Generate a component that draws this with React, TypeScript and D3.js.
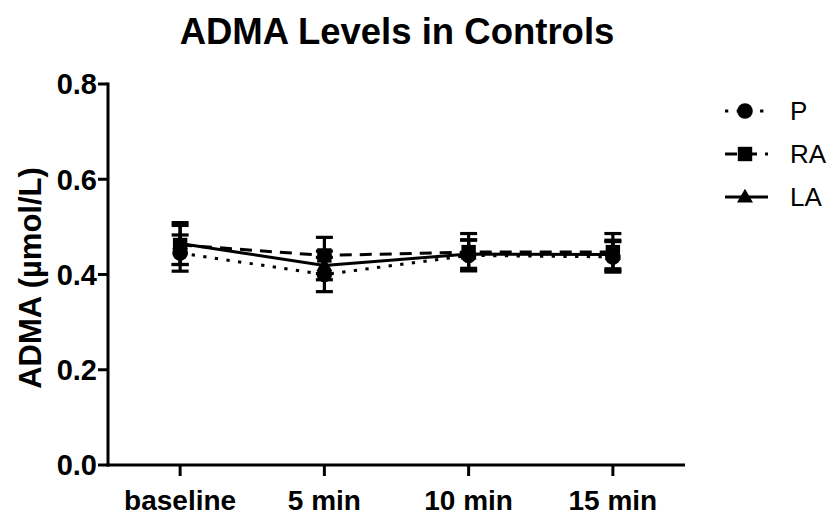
import React from "react";
import * as d3 from "d3";

// Time points and group means ± SEM (µmol/L)
const categories = ["baseline", "5 min", "10 min", "15 min"];
const pMean = [0.445, 0.4, 0.44, 0.437];
const pErr = [0.038, 0.036, 0.032, 0.032];
const raMean = [0.462, 0.44, 0.447, 0.447];
const raErr = [0.041, 0.038, 0.039, 0.039];
const laMean = [0.465, 0.419, 0.443, 0.442];
const laErr = [0.044, 0.03, 0.03, 0.03];
const yTicks = [0.0, 0.2, 0.4, 0.6, 0.8];

const W = 836;
const H = 518;
const FONT = "'Liberation Sans', Arial, Helvetica, sans-serif";

type Series = {
  name: string;
  mean: number[];
  err: number[];
  dash: string | undefined;
  marker: "circle" | "square" | "triangle";
};

const series: Series[] = [
  { name: "P", mean: pMean, err: pErr, dash: "3.3 8.4", marker: "circle" },
  { name: "RA", mean: raMean, err: raErr, dash: "12 8", marker: "square" },
  { name: "LA", mean: laMean, err: laErr, dash: undefined, marker: "triangle" },
];

function Marker({ kind, x, y }: { kind: Series["marker"]; x: number; y: number }) {
  if (kind === "circle") return <circle cx={x} cy={y} r={7.8} fill="#000" />;
  if (kind === "square")
    return <rect x={x - 7.2} y={y - 7.2} width={14.4} height={14.4} fill="#000" />;
  const tri = d3.symbol().type(d3.symbolTriangle).size(110)();
  return <path d={tri || ""} transform={`translate(${x},${y + 1})`} fill="#000" />;
}

export default function App() {
  const x = d3.scalePoint<string>().domain(categories).range([108, 685]).padding(0.5);
  const y = d3.scaleLinear().domain([0, 0.8]).range([465, 84]);
  const x0 = 108;
  const x1 = 685;
  const yBase = y(0);

  const line = (vals: number[]) =>
    d3
      .line<number>()
      .x((_, i) => x(categories[i]) as number)
      .y((v) => y(v))(vals) || "";

  const capW = 8.5;

  return (
    <svg width={W} height={H} style={{ display: "block", margin: "-8px" }} fontFamily={FONT}>
      <rect width={W} height={H} fill="#fff" />
      {/* title */}
      <text x={397} y={44} textAnchor="middle" fontSize={36.5} fontWeight="bold">
        ADMA Levels in Controls
      </text>

      {/* y axis */}
      <line x1={x0} x2={x0} y1={y(0.8) - 1.5} y2={yBase + 1.5} stroke="#000" strokeWidth={3} />
      {yTicks.map((t) => (
        <g key={t}>
          <line x1={x0 - 10} x2={x0} y1={y(t)} y2={y(t)} stroke="#000" strokeWidth={3} />
          <text
            x={x0 - 11}
            y={y(t)}
            dy="0.36em"
            textAnchor="end"
            fontSize={29}
            fontWeight="bold"
          >
            {t.toFixed(1)}
          </text>
        </g>
      ))}
      <text
        transform={`translate(30,${278}) rotate(-90)`}
        textAnchor="middle"
        dominantBaseline="central"
        fontSize={31}
        fontWeight="bold"
      >
        ADMA (µmol/L)
      </text>

      {/* x axis */}
      <line x1={x0 - 1.5} x2={x1} y1={yBase} y2={yBase} stroke="#000" strokeWidth={3} />
      {categories.map((c) => (
        <g key={c}>
          <line
            x1={x(c)}
            x2={x(c)}
            y1={yBase}
            y2={yBase + 11}
            stroke="#000"
            strokeWidth={3}
          />
          <text x={x(c)} y={510} textAnchor="middle" fontSize={28} fontWeight="bold">
            {c}
          </text>
        </g>
      ))}

      {/* connecting lines */}
      {series.map((s) => (
        <path
          key={s.name + "-line"}
          d={line(s.mean)}
          fill="none"
          stroke="#000"
          strokeWidth={3}
          strokeDasharray={s.dash}
        />
      ))}

      {/* error bars */}
      {series.map((s) =>
        s.mean.map((m, i) => {
          const cx = x(categories[i]) as number;
          const top = y(m + s.err[i]);
          const bot = y(m - s.err[i]);
          return (
            <g key={s.name + "-err-" + i} stroke="#000" strokeWidth={3.2}>
              <line x1={cx} x2={cx} y1={top} y2={bot} />
              <line x1={cx - capW} x2={cx + capW} y1={top} y2={top} />
              <line x1={cx - capW} x2={cx + capW} y1={bot} y2={bot} />
            </g>
          );
        })
      )}

      {/* markers */}
      {series.map((s) =>
        s.mean.map((m, i) => (
          <Marker key={s.name + "-m-" + i} kind={s.marker} x={x(categories[i]) as number} y={y(m)} />
        ))
      )}

      {/* legend */}
      {series.map((s, i) => {
        const ly = 111 + i * 43;
        return (
          <g key={s.name + "-legend"}>
            <line
              x1={725}
              x2={768}
              y1={ly}
              y2={ly}
              stroke="#000"
              strokeWidth={3}
              strokeDasharray={s.dash}
            />
            <Marker kind={s.marker} x={745} y={ly} />
            <text x={790} y={ly} dy="0.36em" fontSize={26}>
              {s.name}
            </text>
          </g>
        );
      })}
    </svg>
  );
}
